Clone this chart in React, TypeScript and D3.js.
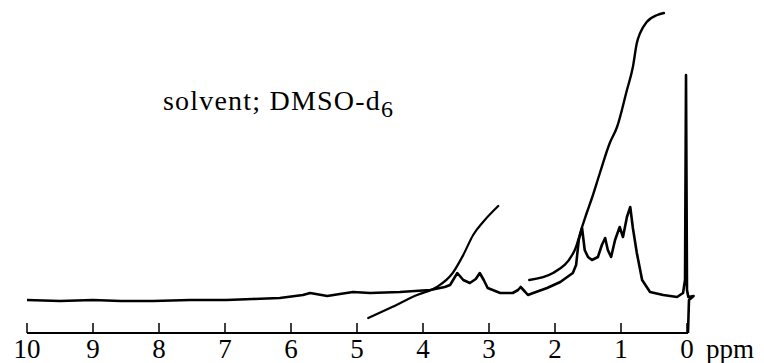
import React from "react";
import * as d3 from "d3";

const tickLabels = [10, 9, 8, 7, 6, 5, 4, 3, 2, 1, 0];

// Spectrum trace: chemical shift (ppm) and intensity (arbitrary units)
const tracePpm = [10.0, 9.5, 9.0, 8.58, 8.09, 7.53, 6.98, 6.58, 6.17, 5.82, 5.71, 5.45, 5.26, 5.06, 4.8, 4.35, 3.89, 3.67, 3.59, 3.48, 3.39, 3.29, 3.2, 3.14, 3.08, 3.02, 2.83, 2.64, 2.56, 2.52, 2.45, 2.41, 2.33, 2.12, 1.92, 1.73, 1.68, 1.64, 1.59, 1.55, 1.5, 1.44, 1.35, 1.29, 1.24, 1.2, 1.15, 1.09, 1.02, 0.97, 0.91, 0.86, 0.82, 0.76, 0.68, 0.56, 0.36, 0.15, 0.06, 0.03, 0.015, 0.0, -0.02, -0.1, -0.03, -0.015];
const traceInt = [33, 32, 33, 32, 32, 33, 33, 34, 35, 38, 40, 37, 39, 41, 40, 41, 43, 46, 48, 60, 53, 50, 54, 60, 53, 45, 40, 40, 43, 46, 41, 38, 40, 45, 51, 60, 68, 93, 105, 83, 76, 73, 76, 88, 95, 83, 76, 93, 106, 96, 116, 126, 105, 80, 53, 41, 38, 36, 40, 53, 258, 43, 36, 37, 33, 0];

// Integral curve 1
const integ1Ppm = [4.83, 4.5, 4.09, 3.79, 3.55, 3.39, 3.24, 3.09, 2.86];
const integ1Val = [15, 25, 38, 46, 60, 78, 98, 111, 127];

// Integral curve 2
const integ2Ppm = [2.39, 2.03, 1.7, 1.59, 1.52, 1.44, 1.32, 1.17, 1.06, 0.91, 0.82, 0.76, 0.71, 0.61, 0.45, 0.35];
const integ2Val = [53, 60, 83, 106, 120, 135, 160, 190, 206, 243, 266, 290, 300, 311, 318, 320];

const W = 764;
const H = 363;

export default function App() {
  const x = d3.scaleLinear().domain([10, 0]).range([27, 687]);
  const y = d3.scaleLinear().domain([0, 320]).range([333, 13]);
  const line = d3
    .line<[number, number]>()
    .x((d) => x(d[0]))
    .y((d) => y(d[1]));

  const trace = tracePpm.map((p, i) => [p, traceInt[i]] as [number, number]);
  const i1 = integ1Ppm.map((p, i) => [p, integ1Val[i]] as [number, number]);
  const smooth = d3
    .line<[number, number]>()
    .x((d) => x(d[0]))
    .y((d) => y(d[1]))
    .curve(d3.curveMonotoneX);
  const i2 = integ2Ppm.map((p, i) => [p, integ2Val[i]] as [number, number]);

  const font = "'Liberation Serif', 'Times New Roman', serif";

  return (
    <svg
      width={W}
      height={H}
      style={{ position: "absolute", left: 0, top: 0, background: "#fff" }}
    >
      <rect width={W} height={H} fill="#fff" />
      {/* axis line */}
      <line x1={x(10)} x2={x(0) + 1} y1={y(0)} y2={y(0)} stroke="#000" strokeWidth={2} />
      {tickLabels.map((t) => (
        <g key={t}>
          <line x1={x(t)} x2={x(t)} y1={y(0)} y2={y(0) - 10} stroke="#000" strokeWidth={1.5} />
          <text
            x={x(t)}
            y={358}
            textAnchor="middle"
            fontFamily={font}
            fontSize={27}
            fill="#000"
          >
            {t}
          </text>
        </g>
      ))}
      <text x={706} y={358} fontFamily={font} fontSize={27} fill="#000">
        ppm
      </text>
      {/* spectrum */}
      <path d={line(trace) || ""} fill="none" stroke="#000" strokeWidth={2.6} strokeLinejoin="round" />
      {/* integrals */}
      <path d={smooth(i1) || ""} fill="none" stroke="#000" strokeWidth={2.2} strokeLinecap="round" />
      <path d={smooth(i2) || ""} fill="none" stroke="#000" strokeWidth={2.4} strokeLinecap="round" />
      {/* solvent label */}
      <text x={163} y={110} fontFamily={font} fontSize={28} letterSpacing={1.2} fill="#000">
        solvent; DMSO-d
        <tspan dy={7} fontSize={24}>6</tspan>
      </text>
    </svg>
  );
}
